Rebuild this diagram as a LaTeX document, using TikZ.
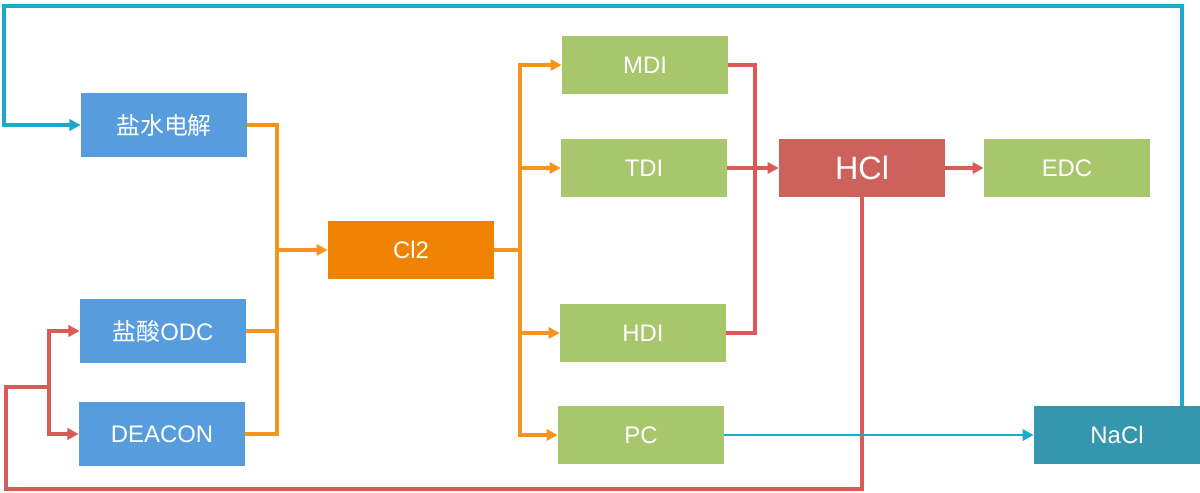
\documentclass[tikz,border=0pt]{standalone}
\usepackage{fontspec}
\setmainfont{Liberation Sans}
\newfontfamily\cjk{Noto Sans CJK SC}
\usetikzlibrary{arrows.meta}
\definecolor{rawblue}{HTML}{579CDC}
\definecolor{prodgreen}{HTML}{A8C66C}
\definecolor{chlorange}{HTML}{EF8200}
\definecolor{pipeorange}{HTML}{F7941D}
\definecolor{hclred}{HTML}{CD625D}
\definecolor{pipered}{HTML}{DA5A55}
\definecolor{saltteal}{HTML}{3696AE}
\definecolor{pipeteal}{HTML}{1CA9CC}

\tikzset{
  unit/.style={minimum width=4.15cm, minimum height=1.43cm, inner sep=0pt, text=white, font=\fontsize{17}{20}\selectfont},
  raw/.style={unit, fill=rawblue, minimum height=1.6cm},
  product/.style={unit, fill=prodgreen},
  tip/.style={-{Triangle[length=0.28cm,width=0.28cm]}},
  oline/.style={line width=2.2pt, draw=pipeorange},
  rline/.style={line width=2.2pt, draw=pipered},
  tline/.style={line width=2pt, draw=pipeteal}
}

\begin{document}
\begin{tikzpicture}[x=0.025cm, y=-0.025cm]
    \useasboundingbox (0,0) rectangle (1200,492);
    \fill [white] (0,0) rectangle (1200,492);

    \node[raw] (salt) at (164,125) {{\cjk 盐水电解}};
    \node[raw] (odc) at (163,331) {{\cjk 盐酸}ODC};
    \node[raw] (deacon) at (162,434) {DEACON};
    \node[unit, fill=chlorange, minimum height=1.45cm] (cl) at (411,250) {Cl2};
    \node[product] (mdi) at (645,65) {MDI};
    \node[product] (tdi) at (644,168) {TDI};
    \node[product] (hdi) at (643,333) {HDI};
    \node[product] (pc) at (641,435) {PC};
    \node[unit, fill=hclred, font=\fontsize{23}{26}\selectfont] (hcl) at (862,168) {HCl};
    \node[product] (edc) at (1067,168) {EDC};
    \node[unit, fill=saltteal] (nacl) at (1117,435) {NaCl};

    \coordinate (ojoin) at (277,250);
    \coordinate (osplit) at (520,250);
    \coordinate (rjoin) at (755,168);
    \coordinate (rcorner) at (6,489);
    \coordinate (rsplit) at (49,387);
    \coordinate (ttop) at (1182,6);
    \coordinate (tleft) at (4,6);

    \draw[oline] (odc.east) -| (ojoin);
    \draw[oline] (deacon.east) -| (ojoin);
    \draw[oline, tip] (salt.east) -| (ojoin) -- (cl.west);
    \draw[oline] (cl.east) -- (osplit);
    \foreach \p in {mdi,tdi,hdi,pc}
      \draw[oline, tip] (osplit) |- (\p.west);

    \draw[rline] (mdi.east) -| (rjoin);
    \draw[rline] (hdi.east) -| (rjoin);
    \draw[rline, tip] (tdi.east) -- (hcl.west);
    \draw[rline, tip] (hcl.east) -- (edc.west);
    \draw[rline] (hcl.south) |- (rcorner) |- (rsplit);
    \draw[rline, tip] (rsplit) |- (odc.west);
    \draw[rline, tip] (rsplit) |- (deacon.west);

    \draw[tline, tip] (pc.east) -- (nacl.west);
    \draw[tline, line width=2.4pt, tip] (nacl.north -| ttop) |- (tleft) |- (salt.west);
  \end{tikzpicture}
\end{document}
